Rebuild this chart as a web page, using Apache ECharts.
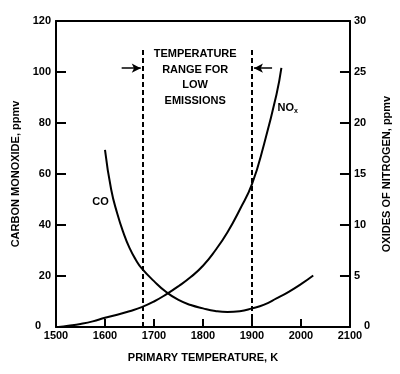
<!DOCTYPE html>
<html>
<head>
<meta charset="utf-8">
<script src="https://cdn.jsdelivr.net/npm/echarts@6/dist/echarts.min.js"></script>
<style>html,body{margin:0;padding:0;background:#fff}#c{width:400px;height:374px}</style>
</head>
<body>
<div id="c"></div>
<script>
// Data
var coTemps = [1600, 1612.5, 1625, 1637.5, 1650, 1662.5, 1675, 1700, 1725, 1750, 1775, 1800, 1825, 1850, 1875, 1900, 1925, 1950, 1975, 2000, 2025];
var coValues = [69.5, 54, 44.5, 37, 31, 26.5, 23, 18, 13.7, 10.6, 8.6, 7.3, 6.3, 5.9, 6.2, 7.3, 8.8, 11.2, 13.8, 16.8, 20.2];
var noxTemps = [1505, 1525, 1550, 1575, 1600, 1625, 1650, 1675, 1700, 1725, 1750, 1775, 1800, 1825, 1850, 1875, 1900, 1925, 1950, 1960];
var noxValues = [0, 0.12, 0.3, 0.55, 0.9, 1.2, 1.55, 1.95, 2.5, 3.2, 4.0, 4.9, 6.0, 7.5, 9.3, 11.5, 14.0, 18, 22.8, 25.4];
var rangeTemps = [1677, 1900];
var rangeTop = 109;
var arrowLevel = 101.5;
var leftArrow = [1634, 1673];
var rightArrow = [1941, 1904];
var xTicks = [1500, 2100, 100];
var coTicks = [0, 120, 20];
var noxTicks = [0, 30, 5];
var coLabelPos = [1591, 49];
var noxLabelPos = [1973, 86];
var rangeLabelPos = [1784, 110];

var FONT = 'Liberation Sans';
var chart = echarts.init(document.getElementById('c'));
function pairs(xs, ys) { return xs.map(function (x, i) { return [x, ys[i]]; }); }
var axisLineStyle = { show: true, onZero: false, lineStyle: { color: '#000', width: 2 } };

var option = {
  animation: false,
  backgroundColor: '#fff',
  grid: { left: 56, right: 49, top: 21, bottom: 47, show: false },
  xAxis: [{
    type: 'value', min: xTicks[0], max: xTicks[1], interval: xTicks[2], position: 'bottom',
    name: 'PRIMARY TEMPERATURE, K', nameLocation: 'middle', nameGap: 25,
    nameTextStyle: { fontFamily: FONT, fontWeight: 'bold', fontSize: 11, color: '#000' },
    axisLine: axisLineStyle,
    axisTick: { inside: true, length: 8, lineStyle: { width: 2 } },
    axisLabel: { fontFamily: FONT, fontWeight: 'bold', fontSize: 11, color: '#000', margin: 3,
      formatter: function (v) { return String(v); } },
    splitLine: { show: false }
  }, {
    type: 'value', min: xTicks[0], max: xTicks[1], interval: xTicks[2], position: 'top',
    axisLine: axisLineStyle, axisTick: { show: false }, axisLabel: { show: false }, splitLine: { show: false }
  }],
  yAxis: [{
    type: 'value', min: coTicks[0], max: coTicks[1], interval: coTicks[2], position: 'left',
    name: 'CARBON MONOXIDE, ppmv', nameLocation: 'middle', nameGap: 27, nameRotate: 90,
    nameTextStyle: { fontFamily: FONT, fontWeight: 'bold', fontSize: 11, color: '#000' },
    axisLine: axisLineStyle,
    axisTick: { inside: true, length: 10, lineStyle: { width: 2 } },
    axisLabel: {
      fontFamily: FONT, fontWeight: 'bold', fontSize: 11, color: '#000', margin: 5,
      formatter: function (v) { return v === 0 ? '{z|0}' : String(v); },
      rich: { z: { fontFamily: FONT, fontWeight: 'bold', fontSize: 11, color: '#000', padding: [0, 10, 2, 0] } }
    },
    splitLine: { show: false }
  }, {
    type: 'value', min: noxTicks[0], max: noxTicks[1], interval: noxTicks[2], position: 'right',
    name: 'OXIDES OF NITROGEN, ppmv', nameLocation: 'middle', nameGap: 19, nameRotate: 90,
    nameTextStyle: { fontFamily: FONT, fontWeight: 'bold', fontSize: 11, color: '#000' },
    axisLine: axisLineStyle,
    axisTick: { inside: true, length: 10, lineStyle: { width: 2 } },
    axisLabel: {
      fontFamily: FONT, fontWeight: 'bold', fontSize: 11, color: '#000', margin: 4,
      formatter: function (v) { return v === 0 ? '{z|0}' : String(v); },
      rich: { z: { fontFamily: FONT, fontWeight: 'bold', fontSize: 11, color: '#000', padding: [0, 0, 2, 10] } }
    },
    splitLine: { show: false }
  }],
  series: [{
    name: 'CO', type: 'line', xAxisIndex: 0, yAxisIndex: 0, smooth: true, showSymbol: false, symbol: 'none',
    data: pairs(coTemps, coValues),
    lineStyle: { color: '#000', width: 2 },
    markPoint: {
      symbol: 'circle', symbolSize: 0, silent: true,
      data: [{ coord: coLabelPos, label: { show: true, formatter: 'CO', fontFamily: FONT, fontWeight: 'bold', fontSize: 11, color: '#000' } }]
    }
  }, {
    name: 'NOx', type: 'line', xAxisIndex: 0, yAxisIndex: 1, smooth: true, showSymbol: false, symbol: 'none',
    data: pairs(noxTemps, noxValues),
    lineStyle: { color: '#000', width: 2 }
  }, {
    name: 'range', type: 'line', xAxisIndex: 0, yAxisIndex: 0, showSymbol: false, symbol: 'none',
    data: [],
    markLine: {
      silent: true, symbol: 'none', label: { show: false },
      lineStyle: { color: '#000', width: 2, type: [5, 3] },
      data: rangeTemps.map(function (t) { return [{ coord: [t, 0] }, { coord: [t, rangeTop] }]; })
    },
    markPoint: {
      symbol: 'circle', symbolSize: 0, silent: true,
      data: [
        { coord: noxLabelPos, label: { show: true, formatter: 'NO{s|x}', fontFamily: FONT, fontWeight: 'bold', fontSize: 11, color: '#000',
          rich: { s: { fontFamily: FONT, fontWeight: 'bold', fontSize: 7, color: '#000', padding: [6, 0, 0, 0] } } } },
        { coord: rangeLabelPos, label: { show: true, position: 'bottom', distance: 0, align: 'center',
          formatter: 'TEMPERATURE\nRANGE FOR\nLOW\nEMISSIONS', fontFamily: FONT, fontWeight: 'bold', fontSize: 11, lineHeight: 15.5, color: '#000' } }
      ]
    }
  }, {
    name: 'arrows', type: 'line', xAxisIndex: 0, yAxisIndex: 0, showSymbol: false, symbol: 'none',
    data: [],
    markLine: {
      silent: true, symbol: ['none', 'arrow'], symbolSize: [7, 9], label: { show: false },
      lineStyle: { color: '#000', width: 1.5, type: 'solid' },
      data: [
        [{ coord: [leftArrow[0], arrowLevel] }, { coord: [leftArrow[1], arrowLevel] }],
        [{ coord: [rightArrow[0], arrowLevel] }, { coord: [rightArrow[1], arrowLevel] }]
      ]
    }
  }]
};
chart.setOption(option);
</script>
</body>
</html>
